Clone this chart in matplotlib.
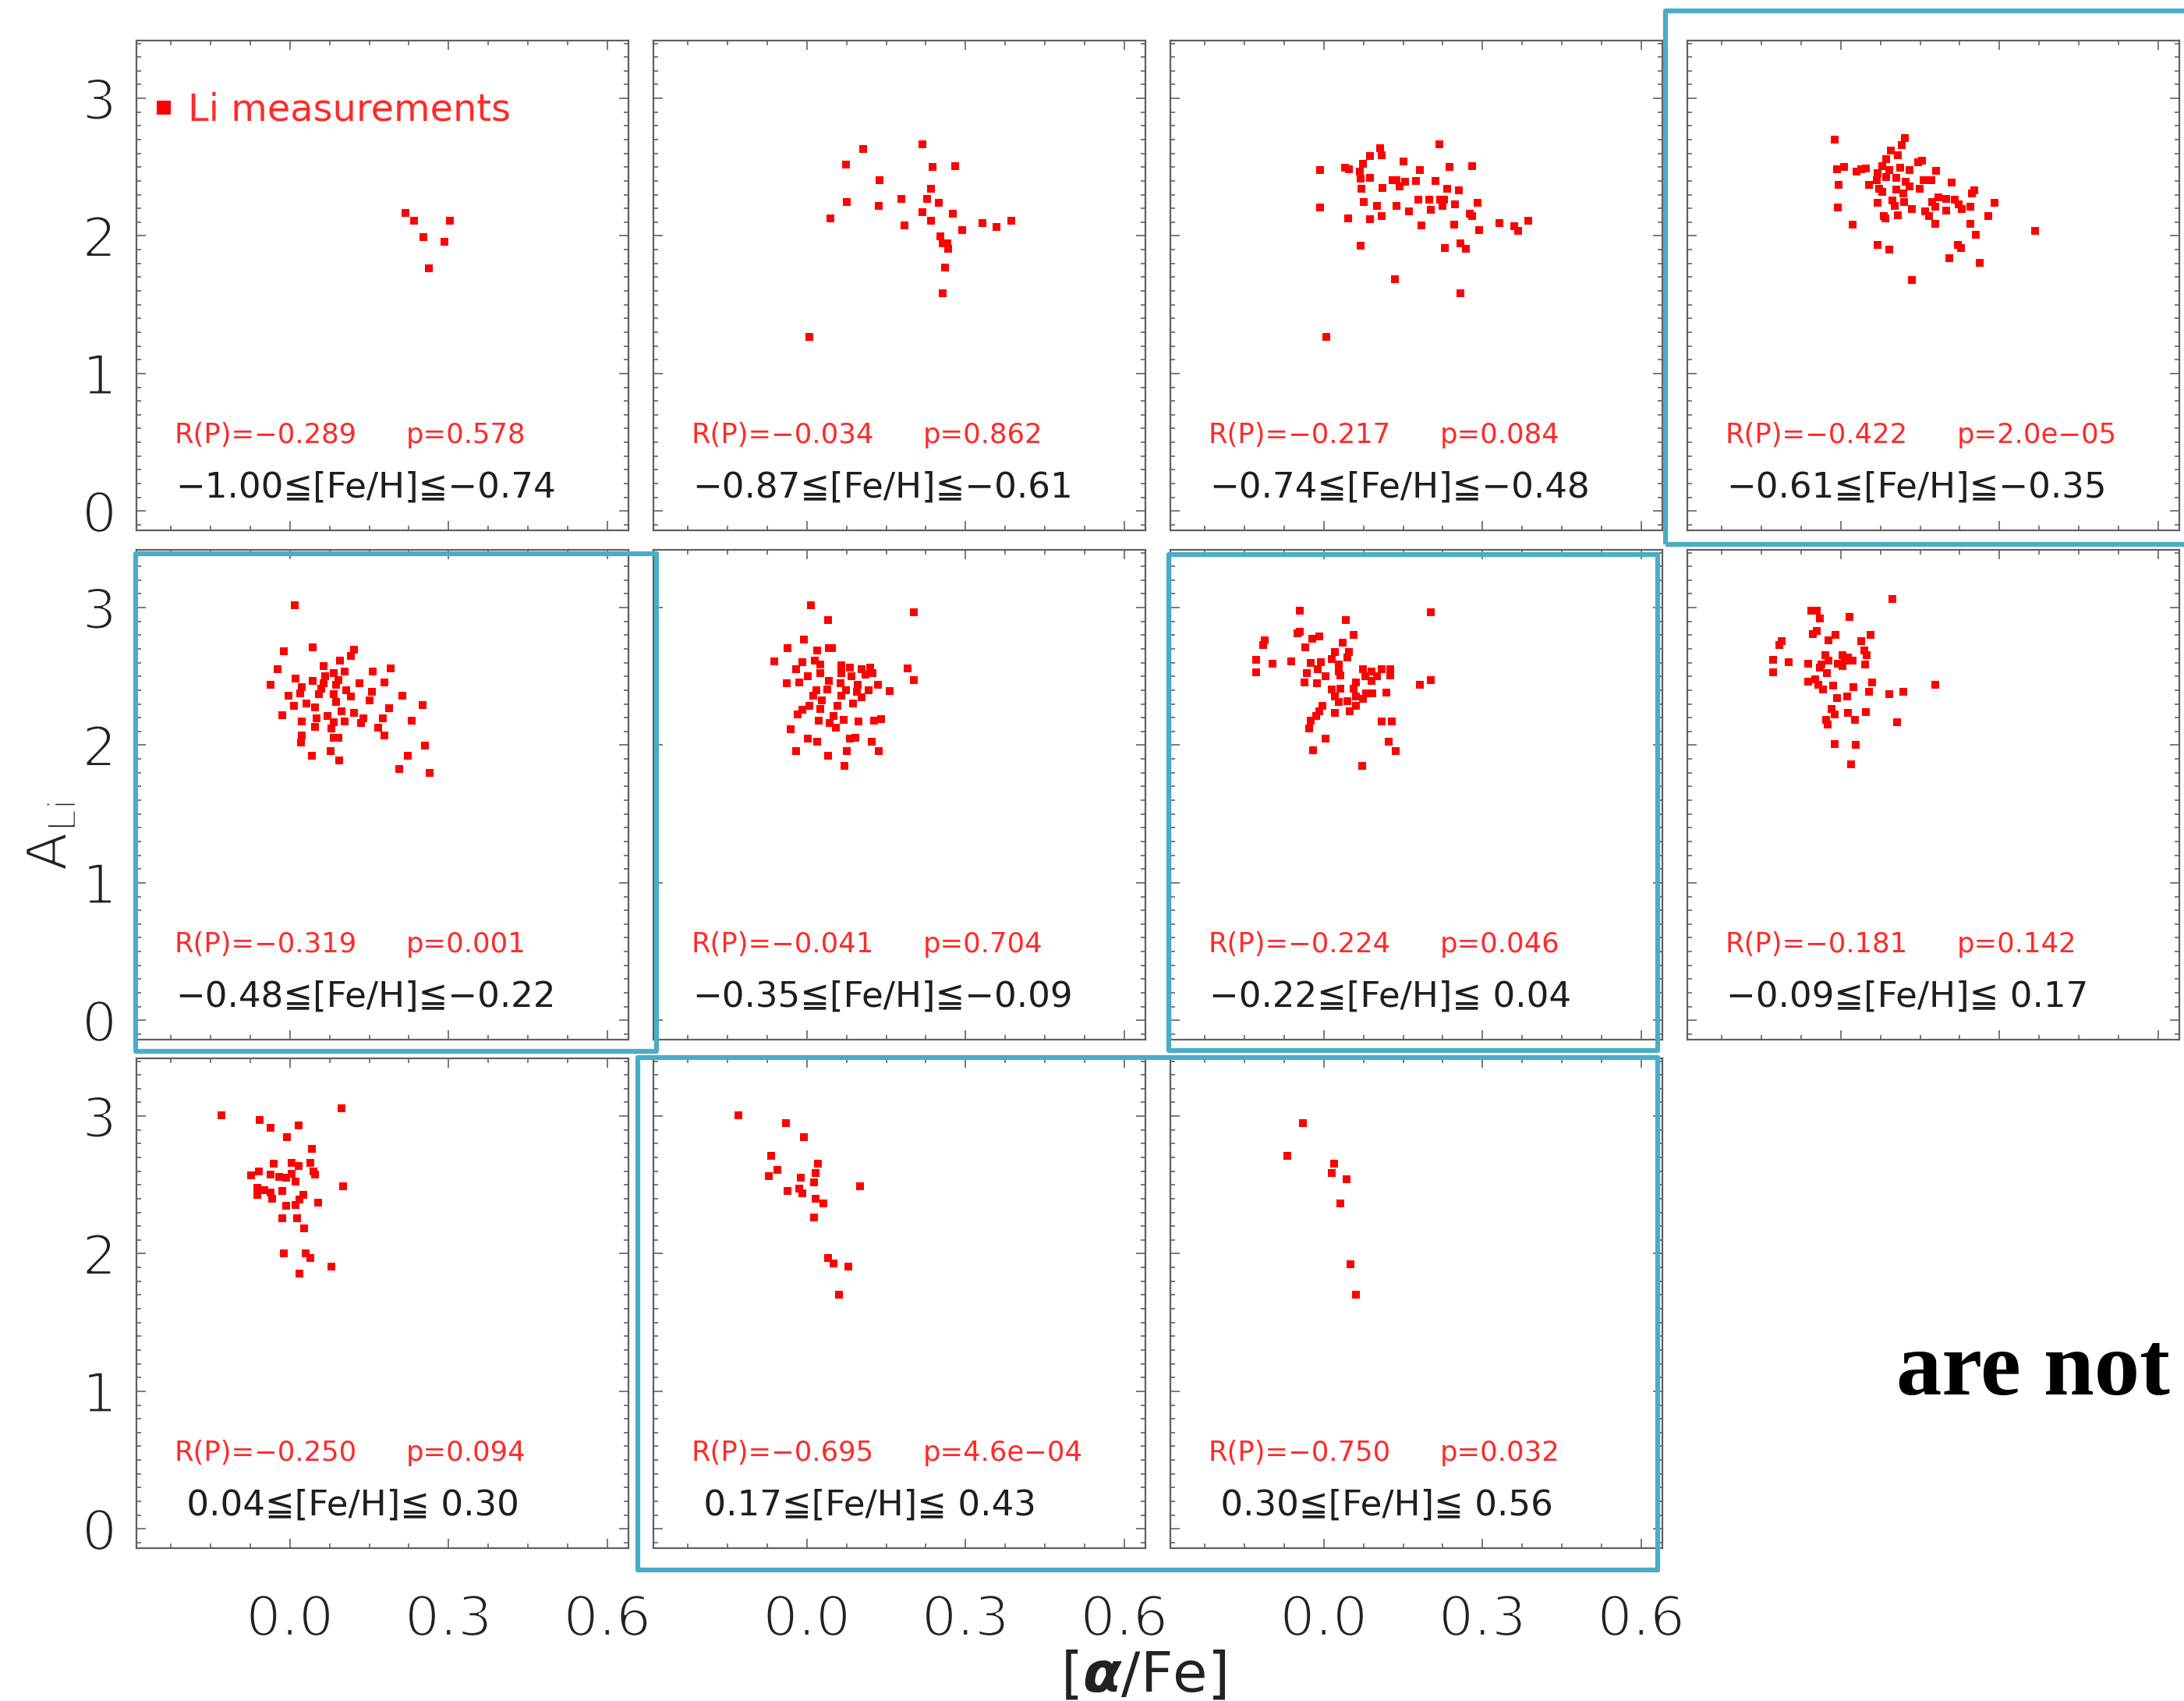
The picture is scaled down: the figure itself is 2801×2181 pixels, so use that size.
import matplotlib
matplotlib.use('Agg')
import matplotlib.pyplot as plt
import matplotlib.patheffects as pe
from matplotlib.patches import Rectangle
from matplotlib.ticker import MultipleLocator, FormatStrFormatter

plt.rcParams['font.family'] = ['DejaVu Sans', 'Noto Sans CJK JP']
plt.rcParams['mathtext.fontset'] = 'dejavusans'

# [alpha/Fe] and A(Li) of the stars in each [Fe/H] bin
afe_1 = [0.219, 0.235, 0.302, 0.252, 0.292, 0.262]
ali_1 = [2.170, 2.109, 2.109, 1.993, 1.958, 1.767]

afe_2 = [0.107, 0.218, 0.074, 0.138, 0.238, 0.280, 0.234, 0.076, 0.178, 0.228,
         0.249, 0.136, 0.218, 0.276, 0.045, 0.235, 0.332, 0.387, 0.359, 0.185,
         0.293, 0.252, 0.257, 0.265, 0.267, 0.261, 0.257, 0.005]
ali_2 = [2.631, 2.666, 2.517, 2.408, 2.502, 2.509, 2.343, 2.249, 2.267, 2.267,
         2.241, 2.216, 2.173, 2.163, 2.125, 2.110, 2.092, 2.112, 2.067, 2.077,
         2.041, 1.996, 1.945, 1.945, 1.907, 1.768, 1.584, 1.265]

afe_3 = [0.218, 0.107, 0.110, 0.088, 0.151, 0.074, -0.007, 0.040, 0.047, 0.068,
         0.182, 0.237, 0.280, 0.069, 0.088, 0.130, 0.138, 0.154, 0.174, 0.211,
         0.143, 0.071, 0.111, 0.233, 0.255, 0.179, 0.199, 0.220, 0.228, 0.076,
         0.101, 0.137, 0.161, 0.203, 0.225, 0.248, 0.291, 0.276, 0.280, -0.007,
         0.046, 0.088, 0.109, 0.185, 0.247, 0.293, 0.332, 0.360, 0.368, 0.386,
         0.070, 0.229, 0.258, 0.268, 0.134, 0.258, 0.005]
ali_3 = [2.666, 2.636, 2.585, 2.583, 2.540, 2.522, 2.479, 2.497, 2.484, 2.466,
         2.477, 2.499, 2.509, 2.416, 2.421, 2.408, 2.403, 2.396, 2.401, 2.398,
         2.358, 2.345, 2.350, 2.345, 2.330, 2.264, 2.264, 2.264, 2.264, 2.249,
         2.219, 2.216, 2.181, 2.191, 2.221, 2.229, 2.241, 2.163, 2.143, 2.208,
         2.125, 2.120, 2.145, 2.077, 2.084, 2.041, 2.092, 2.069, 2.036, 2.112,
         1.930, 1.910, 1.945, 1.907, 1.685, 1.584, 1.265]

afe_4 = [-0.012, 0.121, 0.116, 0.094, 0.108, 0.086, 0.153, 0.146, -0.007, 0.006,
         0.030, 0.039, 0.047, 0.070, 0.079, 0.092, 0.113, 0.130, 0.180, 0.068,
         0.086, 0.105, 0.123, 0.156, 0.172, 0.210, -0.004, 0.054, 0.073, 0.105,
         0.130, 0.149, 0.253, 0.248, 0.079, 0.118, 0.185, 0.200, 0.216, 0.070,
         0.097, 0.119, 0.173, 0.223, 0.290, -0.006, 0.102, 0.134, 0.159, 0.178,
         0.200, 0.229, 0.245, 0.081, 0.084, 0.108, 0.167, 0.279, 0.022, 0.178,
         0.245, 0.255, 0.367, 0.070, 0.092, 0.222, 0.227, 0.205, 0.263, 0.134]
ali_4 = [2.699, 2.712, 2.661, 2.623, 2.585, 2.560, 2.547, 2.535, 2.484, 2.502,
         2.469, 2.484, 2.489, 2.459, 2.509, 2.479, 2.497, 2.479, 2.472, 2.408,
         2.428, 2.421, 2.396, 2.403, 2.403, 2.388, 2.370, 2.370, 2.345, 2.337,
         2.358, 2.345, 2.332, 2.307, 2.320, 2.307, 2.282, 2.269, 2.262, 2.239,
         2.256, 2.249, 2.244, 2.231, 2.241, 2.208, 2.219, 2.193, 2.176, 2.211,
         2.186, 2.193, 2.211, 2.143, 2.125, 2.148, 2.143, 2.143, 2.084, 2.087,
         2.087, 2.009, 2.034, 1.933, 1.902, 1.935, 1.910, 1.839, 1.804, 1.682]

afe_5 = [0.009, 0.043, 0.121, -0.011, 0.115, 0.095, 0.063, -0.023, 0.157, 0.191,
         0.083, 0.103, 0.011, 0.043, 0.067, 0.131, 0.179, -0.037, 0.023, 0.059,
         0.087, 0.107, 0.155, -0.002, 0.019, 0.055, 0.083, 0.115, 0.213, 0.007,
         0.031, 0.087, 0.151, 0.251, 0.097, 0.121, 0.187, -0.014, 0.051, 0.071,
         0.175, 0.023, 0.083, 0.103, 0.139, 0.231, 0.047, 0.079, 0.135, 0.167,
         0.022, 0.083, 0.091, 0.179, 0.021, 0.255, 0.077, 0.041, 0.223, 0.093,
         0.207, 0.264, 0.063, 0.091, 0.047]
ali_5 = [3.015, 2.709, 2.696, 2.681, 2.651, 2.613, 2.575, 2.550, 2.538, 2.558,
         2.525, 2.538, 2.487, 2.470, 2.500, 2.450, 2.455, 2.437, 2.425, 2.412,
         2.437, 2.399, 2.387, 2.362, 2.379, 2.374, 2.374, 2.354, 2.362, 2.286,
         2.304, 2.312, 2.324, 2.291, 2.249, 2.236, 2.269, 2.219, 2.198, 2.211,
         2.198, 2.173, 2.166, 2.173, 2.198, 2.181, 2.136, 2.123, 2.161, 2.128,
         2.073, 2.053, 2.053, 2.073, 2.018, 1.997, 1.960, 1.922, 1.922, 1.892,
         1.827, 1.796, 2.450, 2.475, 2.274]

afe_6 = [0.008, 0.203, 0.040, -0.005, -0.036, 0.020, 0.041, 0.048, -0.062, -0.008,
         0.015, 0.025, 0.065, 0.081, 0.104, 0.120, 0.190, -0.021, 0.002, 0.025,
         0.065, 0.084, 0.111, 0.124, -0.038, -0.015, 0.041, 0.063, 0.096, 0.134,
         0.203, 0.018, 0.038, 0.074, 0.094, 0.117, 0.157, 0.012, 0.065, 0.028,
         0.088, 0.104, 0.058, 0.005, -0.008, 0.025, -0.018, 0.051, 0.022, 0.043,
         0.070, 0.097, 0.127, 0.140, 0.055, -0.030, 0.002, 0.020, 0.081, 0.092,
         0.122, -0.021, 0.076, 0.136, 0.040, 0.071]
ali_6 = [3.018, 2.967, 2.910, 2.769, 2.706, 2.688, 2.706, 2.706, 2.611, 2.606,
         2.613, 2.588, 2.583, 2.563, 2.555, 2.563, 2.558, 2.550, 2.500, 2.525,
         2.525, 2.500, 2.513, 2.525, 2.450, 2.457, 2.470, 2.450, 2.437, 2.437,
         2.475, 2.399, 2.404, 2.399, 2.387, 2.399, 2.392, 2.362, 2.362, 2.324,
         2.304, 2.349, 2.286, 2.286, 2.256, 2.261, 2.224, 2.211, 2.178, 2.161,
         2.186, 2.173, 2.178, 2.191, 2.128, 2.118, 2.048, 2.023, 2.048, 2.053,
         2.023, 1.960, 1.957, 1.960, 1.922, 1.847]

afe_7 = [-0.045, 0.203, 0.041, 0.057, -0.050, -0.045, -0.111, -0.114, -0.022, -0.009,
         -0.035, 0.036, 0.021, 0.047, 0.044, -0.128, -0.097, -0.061, -0.025, -0.005,
         0.015, 0.028, -0.128, -0.032, -0.012, 0.028, 0.074, 0.090, 0.110, 0.125,
         0.003, 0.031, 0.079, 0.100, 0.126, -0.037, -0.013, 0.061, 0.090, 0.181,
         0.202, 0.015, 0.031, 0.057, 0.080, 0.092, 0.118, 0.021, 0.061, 0.074,
         0.028, 0.044, -0.002, -0.009, 0.021, 0.049, 0.061, -0.015, -0.025, -0.028,
         0.110, 0.128, 0.003, 0.123, -0.020, 0.136, 0.072]
ali_7 = [2.977, 2.967, 2.910, 2.802, 2.814, 2.827, 2.764, 2.731, 2.776, 2.789,
         2.714, 2.746, 2.676, 2.676, 2.638, 2.621, 2.595, 2.608, 2.600, 2.606,
         2.626, 2.588, 2.530, 2.525, 2.550, 2.538, 2.555, 2.538, 2.555, 2.550,
         2.500, 2.505, 2.500, 2.500, 2.505, 2.457, 2.450, 2.457, 2.470, 2.442,
         2.472, 2.404, 2.412, 2.412, 2.379, 2.379, 2.384, 2.354, 2.354, 2.337,
         2.312, 2.319, 2.286, 2.249, 2.236, 2.244, 2.286, 2.211, 2.178, 2.123,
         2.173, 2.173, 2.048, 2.023, 1.962, 1.960, 1.847]

afe_8 = [0.097, -0.056, -0.045, -0.039, 0.017, -0.045, -0.052, -0.112, -0.116, -0.010,
         -0.023, 0.056, 0.038, 0.044, 0.049, -0.029, 0.003, 0.014, -0.128, -0.098,
         -0.061, -0.036, -0.023, -0.005, 0.008, 0.022, 0.046, -0.128, -0.039, -0.026,
         0.003, -0.061, -0.049, -0.043, -0.034, -0.015, 0.060, 0.024, 0.054, 0.091,
         0.118, 0.179, -0.007, 0.012, -0.018, -0.012, 0.014, 0.047, 0.027, -0.028,
         -0.024, 0.107, -0.012, 0.028, 0.020]
ali_8 = [3.065, 2.977, 2.977, 2.922, 2.932, 2.832, 2.806, 2.756, 2.731, 2.801,
         2.764, 2.801, 2.756, 2.688, 2.656, 2.656, 2.656, 2.638, 2.618, 2.601,
         2.593, 2.588, 2.613, 2.595, 2.613, 2.613, 2.588, 2.530, 2.563, 2.525,
         2.575, 2.462, 2.480, 2.437, 2.404, 2.432, 2.457, 2.420, 2.387, 2.374,
         2.387, 2.442, 2.344, 2.357, 2.261, 2.224, 2.236, 2.241, 2.186, 2.186,
         2.148, 2.168, 2.010, 2.005, 1.859]

afe_9 = [-0.130, 0.097, -0.057, -0.037, 0.017, -0.005, 0.041, -0.030, 0.003, 0.017,
         0.038, 0.045, 0.048, -0.073, -0.059, -0.037, -0.021, -0.007, 0.003, 0.011,
         0.101, -0.061, -0.049, -0.037, -0.015, -0.061, -0.033, 0.025, 0.018, 0.011,
         -0.007, 0.053, -0.015, 0.013, 0.027, -0.011, 0.030, 0.039, 0.079, 0.018]
ali_9 = [3.006, 3.060, 2.970, 2.918, 2.930, 2.849, 2.764, 2.653, 2.659, 2.637,
         2.659, 2.598, 2.574, 2.568, 2.598, 2.577, 2.559, 2.553, 2.583, 2.523,
         2.492, 2.477, 2.462, 2.447, 2.456, 2.426, 2.402, 2.426, 2.396, 2.356,
         2.347, 2.372, 2.260, 2.260, 2.184, 2.000, 2.000, 1.967, 1.906, 1.858]

afe_10 = [-0.130, -0.040, -0.005, -0.068, -0.056, -0.072, 0.021, 0.016, -0.012, 0.014,
          0.101, -0.036, -0.015, -0.008, 0.016, 0.031, 0.013, 0.040, 0.051, 0.079,
          0.061]
ali_10 = [3.006, 2.952, 2.849, 2.710, 2.607, 2.565, 2.653, 2.589, 2.553, 2.517,
          2.492, 2.456, 2.471, 2.438, 2.402, 2.366, 2.266, 1.967, 1.927, 1.906,
          1.701]

afe_11 = [-0.040, -0.069, 0.020, 0.015, 0.043, 0.031, 0.051, 0.061]
ali_11 = [2.952, 2.710, 2.653, 2.589, 2.544, 2.366, 1.924, 1.701]

feh_low = [-1.00, -0.87, -0.74, -0.61, -0.48, -0.35, -0.22, -0.09, 0.04, 0.17, 0.30]
feh_high = [-0.74, -0.61, -0.48, -0.35, -0.22, -0.09, 0.04, 0.17, 0.30, 0.43, 0.56]
pearson_r = [-0.289, -0.034, -0.217, -0.422, -0.319, -0.041, -0.224, -0.181,
             -0.250, -0.695, -0.750]
p_value = ['0.578', '0.862', '0.084', '2.0e-05', '0.001', '0.704', '0.046',
           '0.142', '0.094', '4.6e-04', '0.032']

afe = [afe_1, afe_2, afe_3, afe_4, afe_5, afe_6, afe_7, afe_8, afe_9, afe_10, afe_11]
ali = [ali_1, ali_2, ali_3, ali_4, ali_5, ali_6, ali_7, ali_8, ali_9, ali_10, ali_11]

# page layout in pixels
FW, FH = 2801, 2181
COL_X = [175, 838, 1501, 2164]
ROW_Y = [52, 705, 1357]
PW, PH = 631, 628

# white outline eats into the glyph edges, giving a thin-stroke look
thin = [pe.Stroke(linewidth=2.2, foreground='white')]


def minus(s):
    return s.replace('-', '\u2212')


fig = plt.figure(figsize=(FW / 100, FH / 100), dpi=100)
axes = []

for i in range(len(afe)):
    row, col = divmod(i, 4)
    ax = fig.add_axes([COL_X[col] / FW, 1 - (ROW_Y[row] + PH) / FH, PW / FW, PH / FH])
    axes.append(ax)
    ax.plot(afe[i], ali[i], 's', color='red', ms=6.5, mew=0, ls='none',
            label='Li measurements')
    ax.set_xlim(-0.29, 0.64)
    ax.set_ylim(-0.14, 3.42)
    ax.xaxis.set_major_locator(MultipleLocator(0.3))
    ax.xaxis.set_minor_locator(MultipleLocator(0.075))
    ax.yaxis.set_major_locator(MultipleLocator(1))
    ax.yaxis.set_minor_locator(MultipleLocator(0.1))
    ax.xaxis.set_major_formatter(FormatStrFormatter('%.1f'))
    ax.yaxis.set_major_formatter(FormatStrFormatter('%d'))
    ax.tick_params(which='both', direction='in', top=True, right=True,
                   color='#555555', width=1.1)
    ax.tick_params(which='major', length=8.5)
    ax.tick_params(which='minor', length=4)
    ax.tick_params(axis='x', labelbottom=(row == 2), labelsize=51, pad=42,
                   labelcolor='#222222')
    ax.tick_params(axis='y', labelleft=(col == 0), labelsize=51, pad=18,
                   labelcolor='#222222')
    for sp in ax.spines.values():
        sp.set_color('#606060')
        sp.set_linewidth(1.6)

    ax.text(0.077, 0.179, 'R(P)=' + minus('%.3f' % pearson_r[i]),
            transform=ax.transAxes, color='#ff2a2a', fontsize=25.5, va='baseline')
    ax.text(0.548, 0.179, 'p=' + minus(p_value[i]),
            transform=ax.transAxes, color='#ff2a2a', fontsize=25.5, va='baseline')
    feh_txt = minus('%5.2f' % feh_low[i]) + '\u2266[Fe/H]\u2266' + minus('%5.2f' % feh_high[i])
    ax.text(0.080, 0.067, feh_txt, transform=ax.transAxes, color='#1e1e1e',
            fontsize=32.5, va='baseline')

    if i == 0:
        ax.legend(loc='upper left', bbox_to_anchor=(0.036, 0.895), frameon=False,
                  fontsize=34.5, markerscale=2.0, handlelength=0.5, handletextpad=0.4,
                  labelcolor='#ff2a2a', borderpad=0, borderaxespad=0)

fig.text(66 / FW, 1 - 1072 / FH, r'$\mathregular{A_{Li}}$', rotation=90,
         ha='center', va='center', fontsize=52, color='#222222', path_effects=thin)
fig.text(1466 / FW, 1 - 2169 / FH, r'[$\boldsymbol{\alpha}$/Fe]',
         ha='center', va='baseline', fontsize=52, color='#222222')
fig.text(2432 / FW, 1 - 1788 / FH, 'are not', ha='left', va='baseline',
         fontfamily='Liberation Serif', fontweight='bold', fontsize=84, color='black')

# highlighted bins
boxes = [(2136, 14, 2812, 698), (174, 710, 842, 1348),
         (1499, 711, 2126, 1347), (818, 1356, 2126, 2013)]
for x0, y0, x1, y1 in boxes:
    fig.add_artist(Rectangle((x0 / FW, 1 - y1 / FH), (x1 - x0) / FW, (y1 - y0) / FH,
                             transform=fig.transFigure, fill=False, ec='#4bacc6',
                             lw=4.5, joinstyle='round'))

fig.canvas.draw()
for ax in axes:
    for lab in ax.get_xticklabels() + ax.get_yticklabels():
        lab.set_path_effects(thin)

fig.savefig('out.png', dpi=100, facecolor='white')
